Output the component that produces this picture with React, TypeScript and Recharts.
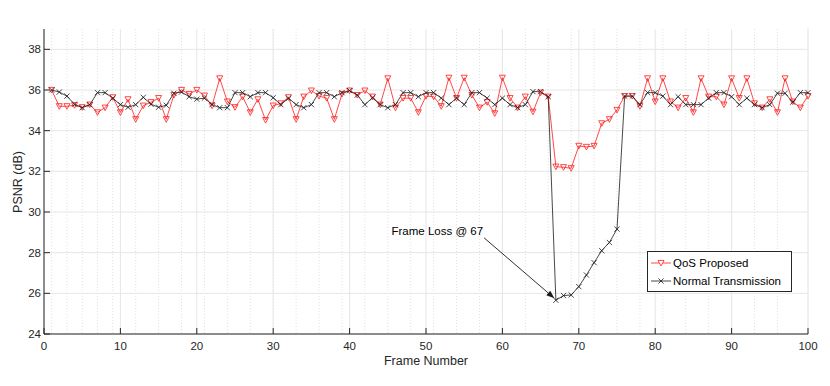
import { LineChart, Line, XAxis, YAxis, CartesianGrid, Legend, ReferenceLine } from 'recharts'

const frames = Array.from({ length: 100 }, (_, i) => i + 1)

const qosProposed = [
  36.0, 35.2, 35.2, 35.25, 35.15, 35.28, 34.9, 35.13, 35.64, 34.9,
  35.54, 34.56, 35.23, 35.4, 35.6, 34.56, 35.75, 36.0, 35.8, 36.0,
  35.72, 35.23, 36.57, 35.43, 35.15, 35.67, 34.9, 35.54, 34.52, 35.23,
  35.34, 35.64, 34.56, 35.67, 35.97, 35.7, 35.6, 34.56, 35.8, 35.97,
  35.75, 35.97, 35.67, 35.28, 36.57, 35.13, 35.6, 35.6, 34.9, 35.7,
  35.67, 35.2, 36.6, 35.6, 36.6, 35.75, 35.13, 35.4, 34.85, 36.6,
  35.6, 35.13, 35.67, 34.93, 35.87, 35.67, 32.23, 32.2, 32.15, 33.25,
  33.2, 33.25, 34.36, 34.56, 35.02, 35.7, 35.7, 35.2, 36.57, 35.43,
  36.57, 35.43, 35.13, 35.6, 34.9, 36.57, 35.67, 35.67, 35.28, 36.57,
  35.6, 36.57, 35.34, 35.13, 35.54, 34.9, 36.57, 35.43, 35.13, 35.7,
]

const normalTransmission = [
  36.0, 35.9, 35.7, 35.3, 35.13, 35.28, 35.87, 35.87, 35.6, 35.28,
  35.15, 35.28, 35.64, 35.3, 35.15, 35.25, 35.84, 35.9, 35.67, 35.55,
  35.6, 35.28, 35.13, 35.13, 35.87, 35.87, 35.67, 35.87, 35.87, 35.62,
  35.28, 35.6, 35.28, 35.13, 35.28, 35.87, 35.87, 35.67, 35.87, 35.97,
  35.75, 35.28, 35.62, 35.28, 35.13, 35.28, 35.87, 35.87, 35.67, 35.87,
  35.87, 35.6, 35.28, 35.6, 35.28, 35.87, 35.87, 35.6, 35.28, 35.6,
  35.28, 35.13, 35.28, 35.92, 35.92, 35.67, 25.66, 25.89, 25.92, 26.33,
  26.9, 27.51, 28.1, 28.5, 29.16, 35.7, 35.7, 35.28, 35.87, 35.87,
  35.7, 35.28, 35.67, 35.28, 35.28, 35.28, 35.6, 35.87, 35.87, 35.67,
  35.28, 35.6, 35.28, 35.13, 35.28, 35.84, 35.84, 35.4, 35.87, 35.87,
]

const xTicks = [0, 10, 20, 30, 40, 50, 60, 70, 80, 90, 100]
const yTicks = [24, 26, 28, 30, 32, 34, 36, 38]
const xMinor = Array.from({ length: 100 }, (_, i) => i + 1)

// annotation arrow, in data units
const arrowFrom = { x: 57.6, y: 28.73 }
const arrowTo = { x: 66.8, y: 25.76 }
const annotationText = 'Frame Loss @ 67'

const data = frames.map((f, i) => ({
  frame: f,
  qos: qosProposed[i],
  normal: normalTransmission[i],
}))

const FONT = '"Liberation Sans", Arial, Helvetica, sans-serif'
const AXIS = '#262626'
const RED = '#ff1a1a'
const BLACK = '#1a1a1a'

const TriangleDot = (props: any) => {
  const { cx, cy, index } = props
  if (cx == null || cy == null) return <g key={index} />
  return (
    <path
      key={index}
      d={`M${cx - 3},${cy - 2.6}L${cx + 3},${cy - 2.6}L${cx},${cy + 3}Z`}
      fill="none"
      stroke={RED}
      strokeWidth={0.8}
    />
  )
}

const CrossDot = (props: any) => {
  const { cx, cy, index } = props
  if (cx == null || cy == null) return <g key={index} />
  return (
    <path
      key={index}
      d={`M${cx - 2.6},${cy - 2.6}L${cx + 2.6},${cy + 2.6}M${cx - 2.6},${cy + 2.6}L${cx + 2.6},${cy - 2.6}`}
      stroke={BLACK}
      strokeWidth={0.8}
    />
  )
}

const ArrowShape = (props: any) => {
  const { x1, y1, x2, y2 } = props
  const a = Math.atan2(y2 - y1, x2 - x1)
  const len = 8
  const w = 3
  const bx = x2 - len * Math.cos(a)
  const by = y2 - len * Math.sin(a)
  const px = -Math.sin(a) * w
  const py = Math.cos(a) * w
  return (
    <g>
      <line x1={x1} y1={y1} x2={bx} y2={by} stroke={BLACK} strokeWidth={0.9} />
      <path d={`M${x2},${y2}L${bx + px},${by + py}L${bx - px},${by - py}Z`} fill={BLACK} />
      <text x={x1 - 1} y={y1 - 7} textAnchor="end" dominantBaseline="central" fontSize={11.5} fontFamily={FONT} fill="#000">
        {annotationText}
      </text>
    </g>
  )
}

const LegendBox = () => (
  <div
    style={{
      boxSizing: 'border-box',
      width: 145,
      height: 41,
      border: `1px solid ${AXIS}`,
      background: '#fff',
      position: 'relative',
      fontFamily: FONT,
      fontSize: 11.5,
      color: '#000',
    }}
  >
    {[
      { name: 'QoS Proposed', kind: 'tri', top: 2 },
      { name: 'Normal Transmission', kind: 'x', top: 20 },
    ].map((e) => (
      <div key={e.name} style={{ position: 'absolute', left: 2, top: e.top, height: 18, display: 'flex', alignItems: 'center' }}>
        <svg width={22} height={18}>
          <line x1={1} y1={9} x2={21} y2={9} stroke={e.kind === 'tri' ? RED : BLACK} strokeWidth={0.8} />
          {e.kind === 'tri' ? (
            <path d="M8,6.4L14,6.4L11,12Z" fill="#fff" stroke={RED} strokeWidth={0.8} />
          ) : (
            <path d="M8.4,6.4L13.6,11.6M8.4,11.6L13.6,6.4" stroke={BLACK} strokeWidth={0.8} />
          )}
        </svg>
        <span style={{ marginLeft: 1, whiteSpace: 'nowrap' }}>{e.name}</span>
      </div>
    ))}
  </div>
)

const YLabel = () => (
  <text x={18} y={182} transform="rotate(-90 18 182)" textAnchor="middle" dominantBaseline="central" fontSize={12.5} fontFamily={FONT} fill={AXIS}>
    PSNR (dB)
  </text>
)

const XLabel = () => (
  <text x={426} y={361} textAnchor="middle" dominantBaseline="central" fontSize={12.5} fontFamily={FONT} fill={AXIS}>
    Frame Number
  </text>
)

export default function App() {
  return (
    <div style={{ position: 'absolute', left: 0, top: 0, width: 830, height: 386, background: '#fff' }}>
      <LineChart width={830} height={386} data={data} margin={{ top: 29, right: 22, bottom: 0, left: 0 }}>
        <CartesianGrid horizontal={false} verticalValues={xMinor} stroke="#e0e0e0" strokeDasharray="1 2" />
        <CartesianGrid verticalValues={xTicks} horizontalValues={yTicks} stroke="#e6e6e6" />
        <XAxis
          dataKey="frame"
          type="number"
          domain={[0, 100]}
          ticks={xTicks}
          height={52}
          tickSize={-6}
          tickMargin={14}
          stroke={AXIS}
          tick={{ fill: AXIS, fontSize: 11.5, fontFamily: FONT }}
          label={<XLabel />}
        />
        <YAxis
          type="number"
          domain={[24, 39]}
          ticks={yTicks}
          width={44}
          tickSize={-6}
          tickMargin={9}
          stroke={AXIS}
          tick={{ fill: AXIS, fontSize: 11.5, fontFamily: FONT }}
          label={<YLabel />}
        />
        <ReferenceLine segment={[arrowFrom, arrowTo]} shape={ArrowShape} ifOverflow="visible" />
        <Line type="linear" dataKey="qos" name="QoS Proposed" stroke={RED} strokeWidth={0.8} dot={TriangleDot} activeDot={false} isAnimationActive={false} />
        <Line type="linear" dataKey="normal" name="Normal Transmission" stroke={BLACK} strokeWidth={0.8} dot={CrossDot} activeDot={false} isAnimationActive={false} />
        <Legend
          layout="horizontal"
          verticalAlign="middle"
          align="center"
          content={<LegendBox />}
          wrapperStyle={{ left: 647, top: 251, width: 145, height: 41 }}
        />
      </LineChart>
    </div>
  )
}
